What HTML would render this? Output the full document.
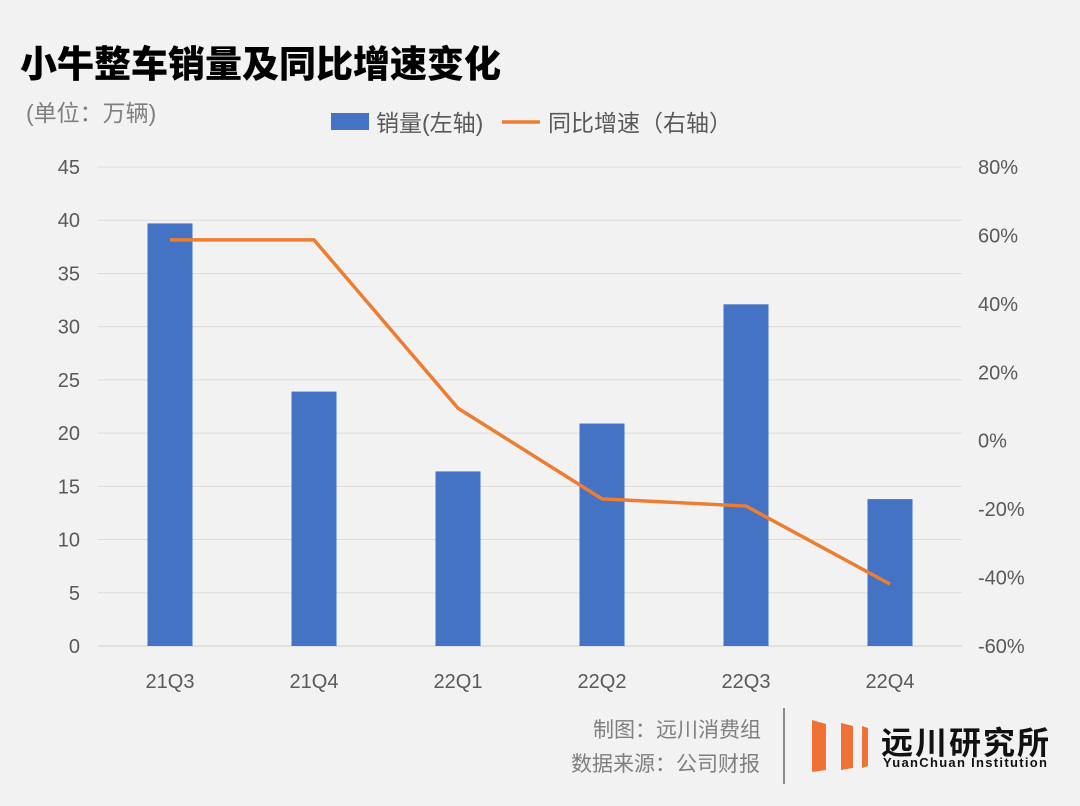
<!DOCTYPE html>
<html><head><meta charset="utf-8">
<style>
body{margin:0;background:#f2f2f2;}
#wrap{position:relative;width:1080px;height:806px;background:#f2f2f2;overflow:hidden;font-family:"Liberation Sans","Noto Sans CJK SC",sans-serif;}
.t{position:absolute;white-space:nowrap;}
</style></head>
<body>
<div id="wrap">
<div class="t" style="left:20px;top:34px;font-size:37px;font-weight:900;color:#000;">小牛整车销量及同比增速变化</div>
<div class="t" style="left:26px;top:94px;font-size:23px;color:#7f7f7f;">(单位：万辆)</div>
<svg id="chart" width="1080" height="806" style="position:absolute;left:0;top:0"></svg>
<div class="t" style="left:593px;top:714px;font-size:21px;color:#7f7f7f;">制图：远川消费组</div>
<div class="t" style="left:571px;top:748px;font-size:21px;color:#7f7f7f;">数据来源：公司财报</div>
<div style="position:absolute;left:783px;top:708px;width:2px;height:76px;background:#8a8a8a;"></div>
<svg width="70" height="60" style="position:absolute;left:808px;top:716px">
<polygon points="4,4 18,8 18,54 4,56" fill="#f07135"/>
<polygon points="33,7 45,10 45,52 33,54" fill="#f07135"/>
<polygon points="54,10 60,12 60,50 54,52" fill="#f07135"/>
</svg>
<div class="t" style="left:881px;top:718px;font-size:32px;font-weight:bold;color:#111;letter-spacing:2px;">远川研究所</div>
<div class="t" style="left:883px;top:755px;font-size:13px;font-weight:600;color:#111;letter-spacing:1.3px;">YuanChuan Institution</div>
</div>
<script>
const categories=["21Q3","21Q4","22Q1","22Q2","22Q3","22Q4"];
const sales=[39.7,23.9,16.4,20.9,32.1,13.8];
const growth=[58.7,58.7,9.5,-17,-19.1,-41.9];
const leftTicks=[0,5,10,15,20,25,30,35,40,45];
const rightTicks=[-60,-40,-20,0,20,40,60,80];
const NS="http://www.w3.org/2000/svg";
const svg=document.getElementById('chart');
const top0=167,bot0=646,x0=98,x1=962;
const yL=v=>bot0-(v/45)*(bot0-top0);
const yR=v=>bot0-((v+60)/140)*(bot0-top0);
const step=(x1-x0)/categories.length;
const xC=i=>x0+step*(i+0.5);
function mk(tag,attrs){const e=document.createElementNS(NS,tag);for(const k in attrs)e.setAttribute(k,attrs[k]);svg.appendChild(e);return e;}
leftTicks.forEach(v=>{
 const g=mk('line',{x1:x0,x2:x1,y1:yL(v),y2:yL(v),stroke:v===0?'#d0d0d0':'#dcdcdc','stroke-width':1});
 
 
 const t=mk('text',{x:80,y:yL(v)+7,'text-anchor':'end','font-size':20,fill:'#595959'});
 t.textContent=v;
 
 
});
rightTicks.forEach(v=>{
 const t=mk('text',{x:978,y:yR(v)+7,'font-size':20,fill:'#595959'});
 t.textContent=v+'%';
 
 
});
categories.forEach((c,i)=>{
 const b=mk('rect',{x:xC(i)-22.5,y:yL(sales[i]),width:45,height:yL(0)-yL(sales[i]),fill:'#4472c4'});
 
 
 const t=mk('text',{x:xC(i),y:688,'text-anchor':'middle','font-size':20,fill:'#595959'});
 t.textContent=c;
 
 
});
const pl=mk('polyline',{points:growth.map((v,i)=>xC(i)+','+yR(v)).join(' '),fill:'none',stroke:'#ed7d31','stroke-width':3.5,'stroke-linejoin':'round'});


const lr=mk('rect',{x:331,y:113,width:38,height:17,fill:'#4472c4'});


const lt=mk('text',{x:376,y:131,'font-size':23,fill:'#595959'});
lt.textContent='销量(左轴)';


const ll=mk('line',{x1:502,x2:540,y1:122,y2:122,stroke:'#ed7d31','stroke-width':3.5});


const lt2=mk('text',{x:548,y:131,'font-size':23,fill:'#595959'});
lt2.textContent='同比增速（右轴）';


</script>
</body></html>
